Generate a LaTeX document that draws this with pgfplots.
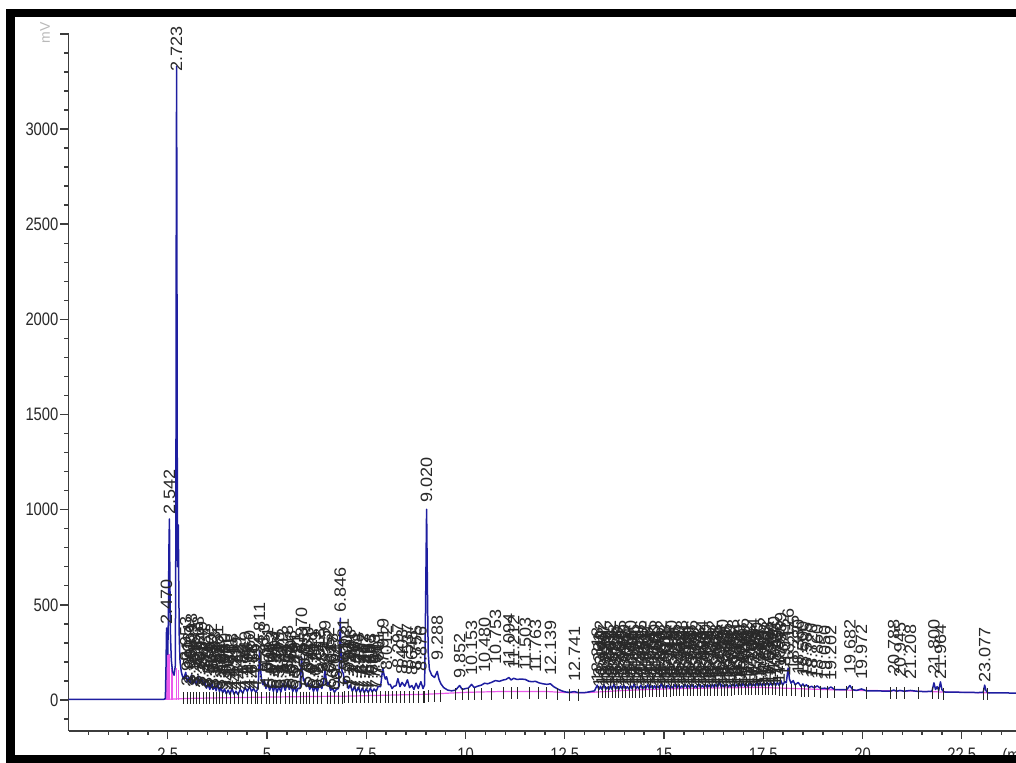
\documentclass[border=0pt]{standalone}
\usepackage{fontspec}
\setmainfont{Liberation Sans}
\usepackage{pgfplots}
\pgfplotsset{compat=1.18}
\usepackage{pgfplotstable}

\definecolor{trace}{RGB}{30,30,160}
\definecolor{basecol}{RGB}{235,90,235}
\definecolor{axisgray}{RGB}{60,60,60}
\definecolor{labelgray}{RGB}{40,40,40}

% detector signal (retention time in min, response)
\pgfplotstableread{
t v
0 3
2.40 3
2.44 8
2.455 160
2.470 378
2.485 300
2.500 240
2.515 420
2.530 800
2.542 951
2.555 600
2.570 330
2.590 210
2.620 150
2.660 130
2.690 180
2.705 900
2.715 2600
2.723 3330
2.731 2400
2.742 900
2.750 700
2.758 820
2.766 920
2.776 650
2.790 330
2.810 200
2.840 150
2.870 125
2.900 110
2.953 145
2.990 95
3.031 118
3.060 90
3.098 132
3.140 85
3.182 104
3.220 80
3.268 126
3.310 90
3.349 118
3.390 80
3.431 98
3.475 62
3.517 82
3.560 55
3.602 96
3.640 55
3.683 72
3.720 48
3.761 86
3.800 45
3.842 62
3.885 38
3.930 58
3.975 32
4.021 52
4.070 30
4.118 62
4.170 30
4.219 46
4.270 28
4.327 56
4.390 35
4.449 66
4.505 45
4.560 72
4.610 45
4.662 60
4.720 40
4.770 60
4.790 120
4.811 260
4.830 180
4.860 110
4.900 80
4.933 105
4.975 60
5.021 92
5.065 50
5.113 80
5.160 45
5.204 76
5.250 40
5.298 70
5.350 42
5.402 86
5.460 50
5.518 96
5.560 55
5.603 76
5.650 45
5.701 70
5.740 40
5.781 62
5.830 60
5.850 140
5.870 225
5.890 150
5.920 100
5.951 110
5.990 70
6.033 90
6.075 55
6.121 80
6.170 45
6.219 70
6.270 45
6.318 86
6.380 60
6.430 100
6.459 158
6.490 110
6.520 80
6.552 92
6.600 50
6.648 62
6.700 40
6.747 56
6.800 60
6.825 220
6.846 430
6.865 260
6.890 150
6.921 140
6.960 85
7.003 100
7.050 60
7.098 80
7.150 45
7.201 70
7.250 42
7.298 66
7.350 40
7.402 62
7.450 38
7.497 58
7.550 40
7.603 62
7.650 42
7.698 58
7.750 45
7.801 72
7.860 70
7.895 130
7.919 168
7.950 130
7.980 110
8.012 122
8.060 80
8.104 82
8.150 60
8.197 72
8.250 75
8.297 112
8.350 70
8.403 92
8.470 72
8.537 106
8.590 65
8.648 76
8.700 55
8.755 88
8.810 60
8.876 96
8.930 60
8.970 80
8.995 500
9.020 1002
9.040 600
9.060 250
9.090 160
9.150 130
9.220 118
9.288 150
9.330 110
9.380 85
9.450 65
9.550 52
9.650 48
9.750 52
9.852 76
9.920 55
10.000 60
10.070 62
10.153 82
10.220 65
10.300 72
10.400 78
10.480 88
10.560 85
10.650 92
10.753 102
10.850 98
10.950 105
11.020 108
11.094 118
11.150 105
11.212 114
11.300 108
11.400 110
11.503 108
11.600 98
11.680 96
11.763 98
11.850 90
11.950 85
12.050 82
12.139 85
12.220 70
12.320 58
12.420 48
12.520 42
12.620 40
12.741 44
12.850 38
12.950 38
13.050 40
13.150 44
13.250 48
13.318 78
13.36 55
13.402 72
13.44 54
13.487 80
13.53 56
13.571 68
13.61 55
13.652 75
13.69 56
13.738 82
13.78 57
13.823 70
13.86 56
13.905 74
13.95 57
13.989 78
14.03 58
14.074 70
14.12 57
14.160 76
14.20 58
14.246 84
14.29 59
14.331 72
14.37 58
14.416 78
14.46 59
14.502 70
14.54 60
14.588 80
14.63 60
14.675 74
14.72 60
14.760 76
14.80 61
14.846 72
14.89 61
14.932 86
14.98 62
15.018 74
15.06 62
15.104 78
15.15 62
15.190 72
15.23 63
15.276 80
15.32 63
15.362 76
15.40 63
15.448 74
15.49 64
15.534 82
15.58 64
15.620 76
15.66 64
15.706 80
15.75 65
15.792 74
15.83 65
15.878 84
15.92 65
15.964 76
16.01 66
16.050 80
16.09 66
16.136 78
16.18 66
16.222 82
16.26 67
16.308 80
16.35 67
16.394 96
16.44 68
16.480 78
16.52 68
16.566 80
16.61 68
16.652 78
16.69 69
16.738 82
16.78 69
16.824 80
16.87 70
16.910 84
16.95 70
16.996 88
17.04 70
17.082 82
17.12 71
17.168 86
17.21 72
17.254 84
17.30 72
17.340 88
17.38 73
17.426 90
17.47 73
17.512 86
17.55 74
17.598 92
17.64 74
17.684 90
17.73 75
17.770 96
17.81 75
17.856 92
17.90 76
17.939 104
17.99 78
18.040 96
18.08 90
18.126 168
18.16 110
18.20 88
18.255 102
18.30 80
18.380 92
18.45 72
18.500 84
18.54 70
18.585 80
18.65 66
18.720 72
18.78 64
18.860 74
18.95 60
19.050 62
19.12 58
19.202 68
19.30 55
19.45 54
19.60 54
19.682 76
19.75 54
19.85 50
19.972 58
20.10 48
20.30 48
20.50 47
20.70 46
20.788 52
20.86 46
20.945 50
21.05 46
21.208 50
21.40 45
21.60 44
21.75 46
21.800 90
21.84 55
21.88 70
21.92 50
21.964 95
22.00 55
22.05 42
22.30 41
22.60 40
22.90 39
23.04 40
23.077 78
23.11 50
23.15 38
23.50 37
24.00 36
}\signal

% integration baseline
\pgfplotstableread{
t v
2.40 3
3.0 8
4.0 12
5.0 15
6.0 18
7.0 20
8.0 25
9.0 30
10.0 40
11.0 45
12.0 45
12.6 38
13.0 38
14.0 50
15.0 58
16.0 62
17.0 65
17.5 65
18.0 62
19.0 55
20.0 50
21.0 48
22.0 42
23.0 38
23.2 37
}\baseline

% retention time labels: position and label start height
\pgfplotstableread{
t y lab
2.470 395 2.470
2.542 970 2.542
2.723 3300 2.723
2.953 200 2.953
2.990 70 2.991
3.031 170 3.031
3.060 80 3.062
3.098 215 3.098
3.140 65 3.141
3.182 160 3.182
3.220 75 3.222
3.268 200 3.268
3.310 70 3.309
3.349 175 3.349
3.390 60 3.391
3.431 150 3.431
3.475 65 3.476
3.517 130 3.517
3.560 55 3.561
3.602 160 3.602
3.640 60 3.642
3.683 120 3.683
3.720 50 3.721
3.761 150 3.761
3.800 55 3.802
3.842 110 3.842
3.885 50 3.886
3.930 110 3.930
3.975 45 3.977
4.021 95 4.021
4.070 50 4.069
4.118 115 4.118
4.170 45 4.171
4.219 90 4.219
4.270 45 4.272
4.327 105 4.327
4.390 50 4.389
4.449 120 4.449
4.505 55 4.506
4.560 125 4.560
4.610 55 4.611
4.662 110 4.662
4.720 50 4.719
4.811 280 4.811
4.933 160 4.933
4.975 65 4.976
5.021 140 5.021
5.065 60 5.066
5.113 130 5.113
5.160 55 5.159
5.204 125 5.204
5.250 55 5.251
5.298 115 5.298
5.350 55 5.352
5.402 135 5.402
5.460 60 5.461
5.518 150 5.518
5.560 60 5.562
5.603 125 5.603
5.650 55 5.649
5.701 115 5.701
5.740 50 5.742
5.781 105 5.781
5.870 245 5.870
5.951 165 5.951
5.990 70 5.991
6.033 140 6.033
6.075 60 6.076
6.121 130 6.121
6.170 55 6.171
6.219 120 6.219
6.270 55 6.272
6.318 135 6.318
6.380 65 6.381
6.459 180 6.459
6.552 140 6.552
6.600 60 6.601
6.648 110 6.648
6.700 50 6.702
6.747 100 6.747
6.846 455 6.846
6.921 190 6.921
6.960 75 6.961
7.003 150 7.003
7.050 65 7.052
7.098 130 7.098
7.150 55 7.149
7.201 120 7.201
7.250 55 7.251
7.298 115 7.298
7.350 50 7.352
7.402 110 7.402
7.450 50 7.451
7.497 105 7.497
7.550 50 7.549
7.603 110 7.603
7.650 50 7.652
7.698 105 7.698
7.750 55 7.751
7.801 120 7.801
7.919 190 7.919
8.012 150 8.012
8.297 165 8.297
8.403 130 8.403
8.537 160 8.537
8.648 125 8.648
8.755 150 8.755
8.876 145 8.876
9.020 1035 9.020
9.288 205 9.288
9.852 110 9.852
10.153 125 10.153
10.480 140 10.480
10.753 185 10.753
11.094 170 11.094
11.212 160 11.212
11.503 150 11.503
11.763 140 11.763
12.139 125 12.139
12.741 95 12.741
13.318 90 13.318
13.360 62 13.361
13.402 125 13.402
13.440 72 13.442
13.487 105 13.487
13.530 62 13.529
13.571 90 13.571
13.610 72 13.612
13.652 125 13.652
13.690 62 13.691
13.738 105 13.738
13.780 72 13.781
13.823 90 13.823
13.860 62 13.862
13.905 125 13.905
13.950 72 13.949
13.989 105 13.989
14.030 62 14.031
14.074 90 14.074
14.120 72 14.119
14.160 125 14.160
14.200 62 14.202
14.246 105 14.246
14.290 72 14.289
14.331 90 14.331
14.370 62 14.372
14.416 125 14.416
14.460 72 14.459
14.502 105 14.502
14.540 62 14.541
14.588 90 14.588
14.630 72 14.631
14.675 125 14.675
14.720 62 14.719
14.760 105 14.760
14.800 72 14.802
14.846 90 14.846
14.890 62 14.889
14.932 125 14.932
14.980 72 14.979
15.018 105 15.018
15.060 62 15.061
15.104 90 15.104
15.150 72 15.149
15.190 125 15.190
15.230 62 15.232
15.276 105 15.276
15.320 72 15.319
15.362 90 15.362
15.400 62 15.402
15.448 125 15.448
15.490 72 15.489
15.534 105 15.534
15.580 62 15.579
15.620 90 15.620
15.660 72 15.662
15.706 125 15.706
15.750 62 15.749
15.792 105 15.792
15.830 72 15.832
15.878 90 15.878
15.920 62 15.919
15.964 125 15.964
16.010 72 16.009
16.050 105 16.050
16.090 62 16.092
16.136 90 16.136
16.180 72 16.179
16.222 125 16.222
16.260 62 16.262
16.308 105 16.308
16.350 72 16.349
16.394 95 16.394
16.440 65 16.439
16.480 130 16.480
16.520 75 16.522
16.566 110 16.566
16.610 65 16.609
16.652 95 16.652
16.690 75 16.692
16.738 130 16.738
16.780 65 16.779
16.824 110 16.824
16.870 75 16.869
16.910 100 16.910
16.950 65 16.952
16.996 135 16.996
17.040 75 17.039
17.082 115 17.082
17.120 65 17.122
17.168 100 17.168
17.210 75 17.209
17.254 135 17.254
17.300 65 17.299
17.340 115 17.340
17.380 75 17.382
17.426 105 17.426
17.470 70 17.469
17.512 140 17.512
17.550 80 17.552
17.598 120 17.598
17.640 70 17.639
17.684 110 17.684
17.730 80 17.729
17.770 145 17.770
17.810 70 17.812
17.856 125 17.856
17.900 85 17.899
17.939 170 17.939
18.040 120 18.041
18.126 190 18.126
18.255 150 18.255
18.380 130 18.380
18.500 120 18.500
18.585 115 18.585
18.720 110 18.720
18.860 105 18.860
19.050 100 19.050
19.202 100 19.202
19.682 130 19.682
19.972 105 19.972
20.788 130 20.788
20.945 115 20.945
21.208 105 21.208
21.800 130 21.800
21.964 105 21.964
23.077 90 23.077
}\peaklabels

\begin{document}
\begin{tikzpicture}[x=1pt,y=1pt]
% page: 508pt x 381.5pt, axis box corner at the origin
\useasboundingbox (-34.25,-16) rectangle (473.75,365.5);
\begin{axis}[
  anchor=south west, scale only axis,
  width=476.4pt, height=348.85pt,
  xmin=0, xmax=24, ymin=-163, ymax=3503,
  axis x line=bottom, axis y line=left,
  axis line style={-, draw=axisgray, line width=0.8pt},
  tick align=outside, major tick length=4pt, minor tick length=2pt,
  tick style={draw=axisgray, line width=0.7pt},
  xtick={2.5,5,7.5,10,12.5,15,17.5,20,22.5},
  xticklabels={2.5,5,7.5,10,12.5,15,17.5,20,22.5},
  minor xtick={0.5,1,...,24},
  ytick={0,500,1000,1500,2000,2500,3000,3500},
  yticklabels={0,500,1000,1500,2000,2500,3000,{}},
  minor ytick={-100,100,200,...,3400},
  /pgf/number format/assume math mode=true,
  xticklabel style={font=\fontsize{7.4}{8}\selectfont, yscale=1.22, text=labelgray},
  yticklabel style={font=\fontsize{7.4}{8}\selectfont, yscale=1.22, text=labelgray, xshift=2.5pt},
  clip=false,
]
% baseline and drop lines
\addplot[basecol, line width=0.6pt] table[x=t, y=v] {\baseline};
\addplot[basecol, line width=0.8pt, ycomb, mark=none]
  coordinates {(2.47,240) (2.50,240) (2.54,240) (2.60,170) (2.72,170) (2.77,160)};
% signal
\addplot[trace, line width=0.75pt, line join=round] table[x=t, y=v] {\signal};
% peak start/end markers
\addplot[black!85, only marks, mark=|, mark size=3pt, mark options={line width=0.45pt}]
  coordinates {
  (2.90,10) (2.99,10) (3.06,10) (3.14,10) (3.22,10) (3.31,10) (3.39,10) (3.475,10)
  (3.56,10) (3.64,10) (3.72,10) (3.80,10) (3.885,10) (3.975,10) (4.07,10) (4.17,10)
  (4.27,10) (4.39,10) (4.505,10) (4.61,10) (4.72,10) (4.77,10) (4.86,10) (4.975,10)
  (5.065,12) (5.16,12) (5.25,12) (5.35,12) (5.46,12) (5.56,12) (5.65,12) (5.74,12)
  (5.83,12) (5.92,12) (5.99,12) (6.075,12) (6.17,12) (6.27,12) (6.38,12) (6.52,12)
  (6.60,12) (6.70,12) (6.80,12) (6.89,12) (6.96,15) (7.05,15) (7.15,15) (7.25,15)
  (7.35,15) (7.45,15) (7.55,15) (7.65,15) (7.75,15) (7.86,15) (7.98,15) (8.06,15)
  (8.15,15) (8.25,15) (8.35,15) (8.47,15) (8.59,15) (8.70,15) (8.81,15) (8.93,15)
  (8.97,15) (9.06,20) (9.22,20) (9.38,20) (9.75,30) (9.92,30) (10.07,30) (10.22,30)
  (10.40,30) (10.65,30) (10.95,35) (11.15,35) (11.30,35) (11.60,35) (11.85,35) (12.05,35)
  (12.32,30) (12.62,28) (12.85,28)
  (13.36,40) (13.44,40) (13.53,40) (13.61,40) (13.69,40) (13.78,40) (13.86,42) (13.95,42)
  (14.03,42) (14.12,42) (14.20,44) (14.29,44) (14.37,44) (14.46,44) (14.54,46) (14.63,46)
  (14.72,46) (14.80,46) (14.89,48) (14.98,48) (15.06,48) (15.15,48) (15.23,50) (15.32,50)
  (15.40,50) (15.49,50) (15.58,50) (15.66,50) (15.75,52) (15.83,52) (15.92,52) (16.01,52)
  (16.09,52) (16.18,52) (16.26,54) (16.35,54) (16.44,54) (16.52,54) (16.61,54) (16.69,54)
  (16.78,56) (16.87,56) (16.95,56) (17.04,56) (17.12,56) (17.21,56) (17.30,56) (17.38,56)
  (17.47,56) (17.55,56) (17.64,56) (17.73,56) (17.81,56) (17.90,54) (17.99,54)
  (18.08,52) (18.20,52) (18.30,50) (18.45,48) (18.54,48) (18.65,46) (18.78,46) (18.95,44)
  (19.12,44) (19.30,42) (19.60,40) (19.75,40) (20.10,38) (20.70,36) (20.86,36) (21.05,36)
  (21.40,34) (21.75,34) (21.92,34) (22.05,32) (23.04,30) (23.15,30)
  };
% retention time labels
\addplot[draw=none, mark=none, nodes near coords, point meta=explicit symbolic,
  nodes near coords style={rotate=90, xscale=1.1, anchor=west, inner sep=0pt,
    font=\fontsize{8.2}{9}\selectfont, text=labelgray}]
  table[x=t, y=y, meta=lab] {\peaklabels};
\end{axis}
% signal unit and time unit
\node[rotate=90, text=gray!55, font=\fontsize{7}{8}\selectfont] at (-11.75,349) {mV};
\node[anchor=north west, text=labelgray, font=\fontsize{7.4}{8}\selectfont, yscale=1.22, inner sep=0pt] at (466.75,-8.5) {(min)};
% frame
\fill[black] (-31.25,-16) rectangle (473.75,-12);
\fill[black] (-31.25,357) rectangle (473.75,361);
\fill[black] (-31.25,-16) rectangle (-26.75,361);
\end{tikzpicture}
\end{document}
